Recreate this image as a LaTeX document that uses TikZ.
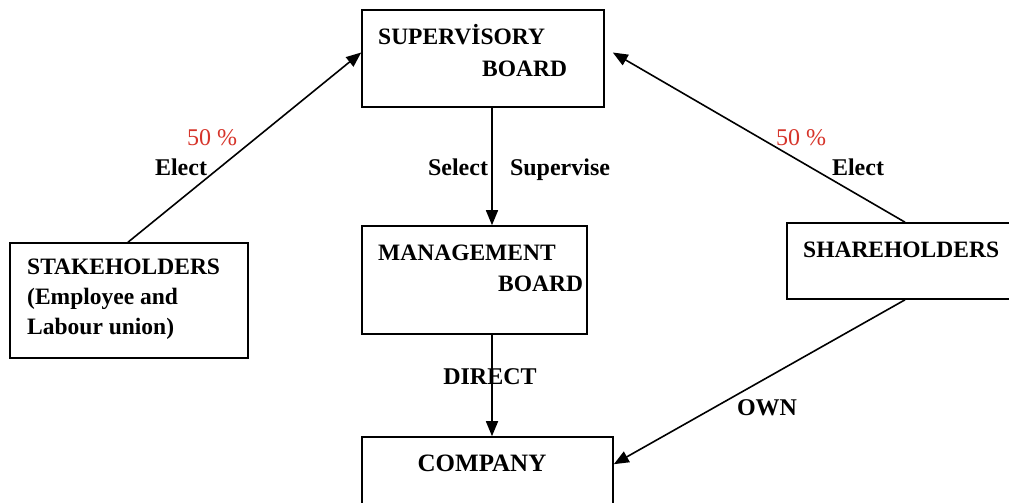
\documentclass[tikz,border=0pt]{standalone}
\usepackage{fontspec}
\setmainfont{Liberation Serif}
\usetikzlibrary{arrows.meta}
\definecolor{pctred}{RGB}{214,52,42}

\begin{document}
\begin{tikzpicture}[x=1pt,y=-1pt,
  box/.style={draw=black,line width=1.6pt,inner sep=0pt},
  boxtext/.style={inner sep=0pt,font=\fontsize{23.5}{30}\selectfont\bfseries},
  lbl/.style={inner sep=0pt,anchor=base,font=\fontsize{24}{28}\selectfont\bfseries},
  pct/.style={inner sep=0pt,anchor=base,text=pctred,font=\fontsize{24}{28}\selectfont},
  link/.style={draw=black,line width=1.6pt,-{Triangle[length=15pt,width=12pt]}}]
              \useasboundingbox (0,0) rectangle (1009,503);
              \node [box,minimum width=242pt,minimum height=97pt] (super) at (483,58.5) {};
              \node [boxtext,anchor=base west] (superA) at (378,45) {SUPERVİSORY};
              \node [boxtext,anchor=base west] (superB) at (482,77) {BOARD};
              \node [box,minimum width=225pt,minimum height=108pt] (manage) at (474.5,280) {};
              \node [boxtext,anchor=base west] (manageA) at (378,260) {MANAGEMENT};
              \node [boxtext,anchor=base west] (manageB) at (498,291) {BOARD};
              \node [box,minimum width=251pt,minimum height=100pt] (comp) at (487.5,487) {};
              \node [boxtext,anchor=base,font=\fontsize{25}{29}\selectfont\bfseries] (compA) at (482,471) {COMPANY};
              \node [box,minimum width=238pt,minimum height=115pt] (stake) at (129,300.5) {};
              \node [boxtext,anchor=north west,align=left] (stakeA) at (27,259) {STAKEHOLDERS\\(Employee and\\Labour union)};
              \node [box,minimum width=228pt,minimum height=76pt] (share) at (901,261) {};
              \node [boxtext,anchor=base west] (shareA) at (803,257) {SHAREHOLDERS};
              \coordinate (superL) at ([yshift=6pt]super.west);
              \coordinate (superR) at ([xshift=8pt,yshift=6pt]super.east);
              \coordinate (compR) at ([yshift=-28pt]comp.north east);
              \draw [link] ([xshift=-1pt]stake.north) -- (superL);
              \draw [link] ([xshift=4pt]share.north) -- (superR);
              \draw [link] ([xshift=9pt]super.south) -- ([xshift=17.5pt]manage.north);
              \draw [link] ([xshift=17.5pt]manage.south) -- ([xshift=4.5pt]comp.north);
              \draw [link] ([xshift=4pt]share.south) -- (compR);
              \node [pct] (pctL) at (212,145) {50 \%};
              \node [lbl] (electL) at (181,175) {Elect};
              \node [pct] (pctR) at (801,145) {50 \%};
              \node [lbl] (electR) at (858,175) {Elect};
              \node [lbl] (select) at (458,175) {Select};
              \node [lbl] (supervise) at (560,175) {Supervise};
              \node [lbl] (direct) at (490,384) {DIRECT};
              \node [lbl] (own) at (767,415) {OWN};
            \end{tikzpicture}
\end{document}
